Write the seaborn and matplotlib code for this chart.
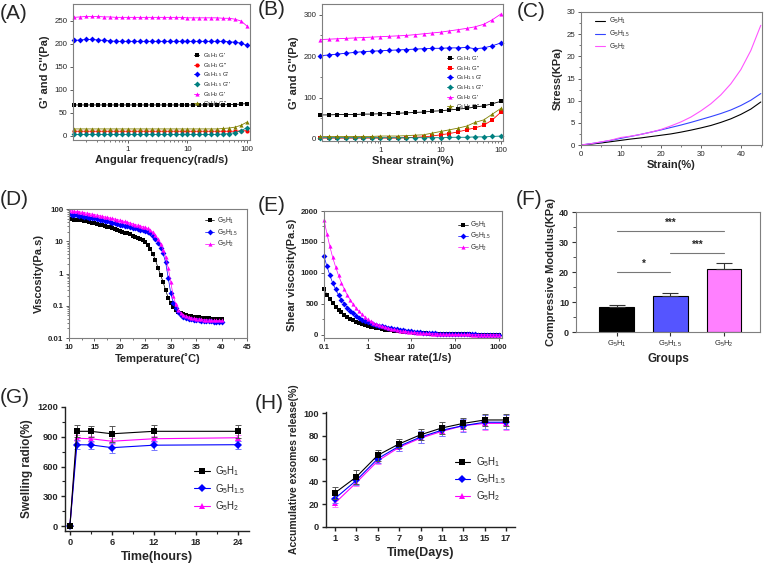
import matplotlib
matplotlib.use("Agg")
import matplotlib.pyplot as plt
import seaborn as sns
from matplotlib.ticker import MultipleLocator

# (A) frequency sweep, rad/s
freq_a = [0.126, 0.158, 0.2, 0.251, 0.316, 0.398, 0.501, 0.631, 0.794, 1,
          1.26, 1.58, 2, 2.51, 3.16, 3.98, 5.01, 6.31, 7.94, 10,
          12.6, 15.8, 20, 25.1, 31.6, 39.8, 50.1, 63.1, 79.4, 100]
a_h1_g1 = [67, 67, 67, 67, 67, 67, 67, 67, 67, 67, 67, 67, 67, 67, 67,
           67, 67, 67, 67, 67, 67, 67, 67, 67, 67, 67, 68, 68, 69, 70]
a_h1_g2 = [10, 10, 10, 10, 10, 10, 10, 10, 10, 10, 10, 10, 10, 10, 10,
           10, 10, 10, 10, 10, 10, 10, 10, 10, 10, 10, 10, 10, 11, 11]
a_h15_g1 = [207, 208, 209, 209, 208, 207, 206, 205, 205, 205, 205, 205, 205, 205, 205,
            205, 205, 205, 205, 205, 205, 205, 205, 205, 205, 205, 204, 203, 201, 196]
a_h15_g2 = [3, 3, 3, 3, 3, 3, 3, 3, 3, 3, 3, 3, 3, 3, 3,
            3, 3, 3, 3, 3, 3, 3, 3, 3, 3, 4, 5, 7, 11, 18]
a_h2_g1 = [257, 258, 259, 259, 259, 258, 258, 257, 257, 257, 257, 257, 257, 257, 257,
           257, 257, 257, 257, 256, 256, 256, 256, 256, 256, 255, 255, 253, 249, 238]
a_h2_g2 = [15, 15, 15, 15, 15, 15, 15, 15, 15, 15, 15, 15, 15, 15, 15,
           15, 15, 15, 15, 15, 15, 15, 15, 15, 15, 16, 17, 19, 23, 30]

# (B) strain sweep, %
strain_b = [0.1, 0.139, 0.193, 0.268, 0.373, 0.518, 0.72, 1, 1.39, 1.93, 2.68,
            3.73, 5.18, 7.2, 10, 13.9, 19.3, 26.8, 37.3, 51.8, 72, 100]
b_h1_g1 = [58, 58, 59, 59, 59, 60, 60, 61, 61, 62, 63, 64, 65, 67, 68, 70, 72, 74, 77, 80, 85, 91]
b_h1_g2 = [2, 2, 2, 2, 2, 2, 2, 2, 2, 2, 3, 4, 5, 7, 10, 13, 17, 22, 27, 33, 46, 65]
b_h15_g1 = [201, 203, 205, 207, 209, 211, 212, 213, 214, 215, 216, 217, 218, 219, 219, 220, 220, 221, 218, 220, 225, 232]
b_h15_g2 = [3, 3, 3, 3, 3, 3, 3, 3, 3, 3, 3, 3, 3, 3, 3, 4, 4, 4, 5, 5, 6, 7]
b_h2_g1 = [240, 241, 242, 243, 244, 245, 246, 247, 248, 249, 250, 252, 254, 256, 258, 261, 264, 267, 271, 277, 288, 302]
b_h2_g2 = [6, 6, 6, 6, 6, 6, 6, 7, 7, 7, 8, 9, 10, 14, 18, 22, 26, 31, 40, 46, 60, 74]

# (C) compression stress-strain
strain_c = [0, 2.5, 5, 7.5, 10, 12.5, 15, 17.5, 20, 22.5, 25, 27.5, 30, 32.5, 35, 37.5, 40, 42.5, 45]
c_h1 = [0, 0.2, 0.45, 0.75, 1.05, 1.35, 1.6, 1.9, 2.2, 2.5, 2.9, 3.35, 3.85, 4.4, 5.1, 5.9, 6.9, 8.1, 9.7]
c_h15 = [0, 0.3, 0.65, 1.05, 1.5, 1.95, 2.4, 2.9, 3.4, 3.95, 4.5, 5.1, 5.75, 6.4, 7.1, 7.9, 8.9, 10.1, 11.6]
c_h2 = [0, 0.3, 0.7, 1.1, 1.7, 2.0, 2.4, 2.9, 3.5, 4.3, 5.2, 6.3, 7.7, 9.3, 11.3, 13.8, 17.0, 21.3, 27.0]

# (D) viscosity vs temperature
temp_d = [10, 10.5, 11, 11.5, 12, 12.5, 13, 13.5, 14, 14.5, 15, 15.5, 16, 16.5, 17, 17.5,
          18, 18.5, 19, 19.5, 20, 20.5, 21, 21.5, 22, 22.5, 23, 23.5, 24, 24.5, 25, 25.5,
          26, 26.5, 27, 27.5, 28, 28.5, 29, 29.5, 30, 30.5, 31, 31.5, 32, 32.5, 33, 33.5,
          34, 34.5, 35, 35.5, 36, 36.5, 37, 37.5, 38, 38.5, 39, 39.5, 40]
d_h1 = [48, 47.5, 47, 46, 45, 44, 42.5, 41, 39.5, 38, 36, 34.5, 33, 31.5, 30, 28.5,
        27, 25.5, 24, 22.5, 21, 19.8, 18.6, 17.4, 16.2, 15, 14, 13, 12, 10.8, 9.5, 7.6,
        5.8, 4.0, 2.6, 1.5, 0.9, 0.55, 0.3, 0.18, 0.125, 0.093, 0.075, 0.064, 0.058, 0.054, 0.051, 0.049,
        0.047, 0.046, 0.045, 0.044, 0.043, 0.042, 0.042, 0.041, 0.040, 0.040, 0.039, 0.039, 0.038]
d_h15 = [68, 66.5, 65, 63.5, 62, 60, 58, 56, 54, 52.5, 51, 49, 47, 45, 43, 41.5,
         40, 38, 36.5, 34.5, 33, 31.5, 30, 28.7, 27.5, 26.2, 25, 24, 23, 22, 21, 19.5,
         17.5, 15, 12, 9, 6.4, 4.2, 2.2, 0.75, 0.25, 0.125, 0.085, 0.063, 0.052, 0.046, 0.042, 0.040,
         0.038, 0.037, 0.036, 0.035, 0.034, 0.034, 0.033, 0.033, 0.033, 0.032, 0.032, 0.032, 0.032]
d_h2 = [90, 88, 86, 84, 82, 79.5, 77, 74.5, 72, 69.5, 67, 64.5, 62, 59.5, 57, 55,
        53, 51, 49, 47, 45, 43, 41, 39, 37, 35, 33, 31.5, 30, 28.5, 27, 25,
        22, 19, 15.5, 12, 8.5, 5.5, 3.2, 1.5, 0.55, 0.2, 0.11, 0.075, 0.06, 0.053, 0.048, 0.045,
        0.043, 0.041, 0.040, 0.039, 0.038, 0.037, 0.037, 0.036, 0.036, 0.035, 0.035, 0.035, 0.035]

# (E) shear viscosity vs shear rate
rate_e = [0.1, 0.117, 0.136, 0.158, 0.185, 0.215, 0.251, 0.293, 0.341, 0.398, 0.464, 0.541, 0.631, 0.736, 0.858,
          1, 1.17, 1.36, 1.58, 1.85, 2.15, 2.51, 2.93, 3.41, 3.98, 4.64, 5.41, 6.31, 7.36, 8.58,
          10, 11.7, 13.6, 15.8, 18.5, 21.5, 25.1, 29.3, 34.1, 39.8, 46.4, 54.1, 63.1, 73.6, 85.8,
          100, 117, 136, 158, 185, 215, 251, 293, 341, 398, 464, 541, 631, 736, 858, 1000]
e_h1 = [740, 650, 575, 510, 455, 405, 362, 325, 292, 263, 237, 214, 194, 176, 160,
        146, 134, 123, 113, 104, 95, 87, 80, 73, 67, 61, 56, 51, 47, 43,
        40, 36, 33, 30, 27, 24.5, 22, 20, 18, 16.5, 15, 13.5, 12, 11, 10,
        9, 8.5, 8, 7.5, 7, 6.6, 6.2, 5.8, 5.4, 5, 4.6, 4.3, 4, 3.6, 3.3, 3]
e_h15 = [1270, 1105, 965, 840, 735, 645, 567, 500, 442, 392, 348, 310, 277, 248, 222,
         205, 190, 175, 162, 150, 138, 127, 117, 107, 98, 90, 82, 75, 68, 62,
         56, 51, 46, 42, 38, 34, 31, 28, 25, 22.5, 20, 18, 16, 14.5, 13,
         12, 11, 10, 9.3, 8.6, 8, 7.4, 6.9, 6.4, 5.9, 5.5, 5.1, 4.8, 4.5, 4.2, 4.0]
e_h2 = [1860, 1630, 1430, 1250, 1095, 960, 840, 735, 645, 565, 495, 433, 380, 332, 291,
        250, 222, 198, 176, 157, 140, 125, 111, 99, 88, 78, 70, 62, 55, 49,
        44, 40, 36, 32, 29, 26, 23, 21, 19, 17, 15, 13.5, 12, 11, 10,
        9.2, 8.5, 8, 7.5, 7, 6.5, 6, 5.6, 5.2, 4.9, 4.6, 4.3, 4, 3.8, 3.6, 3.4]

# (F) compressive modulus
groups = ['G$_5$H$_1$', 'G$_5$H$_{1.5}$', 'G$_5$H$_2$']
modulus = [8.2, 12.0, 21.0]
modulus_err = [0.9, 0.9, 1.9]
sig_pairs = [(0, 1, '*'), (1, 2, '***'), (0, 2, '***')]
sig_heights = [20.1, 26.3, 33.7]

# (G) swelling
hours = [0, 1, 3, 6, 12, 24]
g_h1 = [0, 955, 955, 930, 955, 955]
g_h1_err = [0, 60, 55, 80, 60, 65]
g_h15 = [0, 820, 818, 790, 815, 820]
g_h15_err = [0, 45, 40, 50, 45, 40]
g_h2 = [0, 885, 880, 855, 880, 890]
g_h2_err = [0, 30, 30, 30, 30, 30]

# (H) cumulative exosome release
days = [1, 3, 5, 7, 9, 11, 13, 15, 17]
h_h1 = [30, 44, 63, 73, 81, 87, 91, 94, 94]
h_h1_err = [5, 6, 5, 4, 5, 5, 5, 5, 5]
h_h15 = [25, 41, 60, 71, 79, 85, 89, 92, 92]
h_h15_err = [4, 4, 4, 4, 5, 5, 6, 6, 6]
h_h2 = [21, 39, 58, 70, 78, 84, 89, 91, 91]
h_h2_err = [3, 3, 3, 3, 4, 4, 5, 6, 6]

names = ['G$_5$H$_1$', 'G$_5$H$_{1.5}$', 'G$_5$H$_2$']

sns.set_theme(style='ticks')
plt.rcParams['font.family'] = ['Liberation Sans', 'DejaVu Sans']
plt.rcParams['mathtext.fontset'] = 'custom'
plt.rcParams['mathtext.rm'] = 'Liberation Sans'
plt.rcParams['mathtext.default'] = 'regular'

fig = plt.figure(figsize=(7.64, 5.64), dpi=100)


def px_axes(l, t, r, b):
    return fig.add_axes([l / 764, 1 - b / 564, (r - l) / 764, (b - t) / 564])


def origin_style(ax):
    for s in ax.spines.values():
        s.set_color('#7f7f7f')
        s.set_linewidth(0.8)
    ax.tick_params(which='major', direction='out', length=2.5, width=0.6,
                   color='#444444', pad=1.5)
    ax.tick_params(which='minor', direction='out', length=1.5, width=0.5, color='#444444')


def prism_style(ax):
    ax.spines['top'].set_visible(False)
    ax.spines['right'].set_visible(False)
    for s in ['left', 'bottom']:
        ax.spines[s].set_color('#222222')
        ax.spines[s].set_linewidth(1.0)
    ax.tick_params(which='major', direction='out', length=3, width=1.0, color='#222222', pad=2)
    ax.tick_params(which='minor', direction='out', length=2, width=0.8, color='#222222')


def ticks(ax, axis, vals, labs, size, bold):
    w = 'bold' if bold else 'normal'
    if axis == 'x':
        ax.set_xticks(vals, labs, fontsize=size, fontweight=w)
    else:
        ax.set_yticks(vals, labs, fontsize=size, fontweight=w)


def panel_label(x, y, s):
    fig.text(x / 764, 1 - y / 564, s, fontsize=15, ha='left', va='top')


# ---------------- (A) ----------------
ax = px_axes(73, 4, 250, 140)
a_series = [("G$_5$H$_1$ G'", a_h1_g1, 'black', 's'),
            ("G$_5$H$_1$ G''", a_h1_g2, 'red', 'o'),
            ("G$_5$H$_{1.5}$ G'", a_h15_g1, 'blue', 'D'),
            ("G$_5$H$_{1.5}$ G''", a_h15_g2, '#008080', 'D'),
            ("G$_5$H$_2$ G'", a_h2_g1, 'magenta', '^'),
            ("G$_5$H$_2$ G''", a_h2_g2, '#808000', '^')]
for lab, vals, col, mk in a_series:
    sns.lineplot(x=freq_a, y=vals, ax=ax, color=col, marker=mk, markersize=3,
                 markeredgewidth=0, linewidth=0.6, label=lab, clip_on=False)
ax.set_xscale('log')
ax.set_xlim(0.12, 112)
ax.set_ylim(-9, 286)
origin_style(ax)
ticks(ax, 'x', [1, 10, 100], ['1', '10', '100'], 5.7, False)
ticks(ax, 'y', [0, 50, 100, 150, 200, 250], ['0', '50', '100', '150', '200', '250'], 5.7, False)
ax.set_xlabel('Angular frequency(rad/s)', fontsize=8, fontweight='bold', labelpad=2)
ax.set_ylabel("G' and G''(Pa)", fontsize=8, fontweight='bold', labelpad=3)
ax.legend(loc='upper left', bbox_to_anchor=(0.67, 0.67), frameon=False, fontsize=4.3,
          handlelength=0.9, handletextpad=0.6, labelspacing=0.12, borderaxespad=0)
panel_label(0, 4, '(A)')

# ---------------- (B) ----------------
ax = px_axes(322, 4, 503, 141)
b_series = [("G$_5$H$_1$ G'", b_h1_g1, 'black', 's'),
            ("G$_5$H$_1$ G''", b_h1_g2, 'red', 's'),
            ("G$_5$H$_{1.5}$ G'", b_h15_g1, 'blue', 'D'),
            ("G$_5$H$_{1.5}$ G''", b_h15_g2, '#008080', 'D'),
            ("G$_5$H$_2$ G'", b_h2_g1, 'magenta', '^'),
            ("G$_5$H$_2$ G''", b_h2_g2, '#808000', '^')]
for lab, vals, col, mk in b_series:
    sns.lineplot(x=strain_b, y=vals, ax=ax, color=col, marker=mk, markersize=3,
                 markeredgewidth=0, linewidth=0.6, label=lab, clip_on=False)
ax.set_xscale('log')
ax.set_xlim(0.107, 108)
ax.set_ylim(-5, 326)
origin_style(ax)
ticks(ax, 'x', [1, 10, 100], ['1', '10', '100'], 5.7, False)
ticks(ax, 'y', [0, 100, 200, 300], ['0', '100', '200', '300'], 5.7, False)
ax.yaxis.set_minor_locator(MultipleLocator(50))
ax.set_xlabel('Shear strain(%)', fontsize=8, fontweight='bold', labelpad=2)
ax.set_ylabel("G' and G''(Pa)", fontsize=8, fontweight='bold', labelpad=3)
ax.legend(loc='upper left', bbox_to_anchor=(0.68, 0.65), frameon=False, fontsize=4.3,
          handlelength=0.9, handletextpad=0.6, labelspacing=0.12, borderaxespad=0)
panel_label(258, 0, '(B)')

# ---------------- (C) ----------------
ax = px_axes(581, 12, 762, 145)
for lab, vals, col in [(names[0], c_h1, 'black'), (names[1], c_h15, '#3344ff'), (names[2], c_h2, '#ff55ff')]:
    sns.lineplot(x=strain_c, y=vals, ax=ax, color=col, linewidth=0.8, label=lab)
ax.set_xlim(0, 45.3)
ax.set_ylim(0, 30)
origin_style(ax)
ticks(ax, 'x', [0, 10, 20, 30, 40], ['0', '10', '20', '30', '40'], 5.7, False)
ticks(ax, 'y', [0, 5, 10, 15, 20, 25, 30], ['0', '5', '10', '15', '20', '25', '30'], 5.7, False)
ax.xaxis.set_minor_locator(MultipleLocator(5))
ax.yaxis.set_minor_locator(MultipleLocator(2.5))
ax.set_xlabel('Strain(%)', fontsize=8, fontweight='bold', labelpad=2)
ax.set_ylabel('Stress(KPa)', fontsize=8, fontweight='bold', labelpad=3)
ax.legend(loc='upper left', bbox_to_anchor=(0.06, 0.99), frameon=False, fontsize=4.8,
          handlelength=1.6, handletextpad=0.5, labelspacing=0.4, borderaxespad=0)
panel_label(517, 2, '(C)')

# ---------------- (D) ----------------
ax = px_axes(69, 209, 247, 338)
for lab, vals, col, mk in [(names[0], d_h1, 'black', 's'), (names[1], d_h15, 'blue', 'D'),
                           (names[2], d_h2, 'magenta', '^')]:
    sns.lineplot(x=temp_d, y=vals, ax=ax, color=col, marker=mk, markersize=3,
                 markeredgewidth=0, linewidth=0.5, label=lab)
ax.set_yscale('log')
ax.set_xlim(10, 45)
ax.set_ylim(0.01, 100)
origin_style(ax)
ticks(ax, 'x', [10, 15, 20, 25, 30, 35, 40, 45], ['10', '15', '20', '25', '30', '35', '40', '45'], 5.7, True)
ticks(ax, 'y', [0.01, 0.1, 1, 10, 100], ['0.01', '0.1', '1', '10', '100'], 5.7, True)
ax.xaxis.set_minor_locator(MultipleLocator(2.5))
ax.set_xlabel('Temperature(\u02daC)', fontsize=8, fontweight='bold', labelpad=2)
ax.set_ylabel('Viscosity(Pa.s)', fontsize=8, fontweight='bold', labelpad=3)
ax.legend(loc='upper left', bbox_to_anchor=(0.75, 0.97), frameon=False, fontsize=4.8,
          handlelength=1.4, handletextpad=0.4, labelspacing=0.25, borderaxespad=0)
panel_label(0, 190, '(D)')

# ---------------- (E) ----------------
ax = px_axes(324, 211, 502, 338)
for lab, vals, col, mk in [(names[0], e_h1, 'black', 's'), (names[1], e_h15, 'blue', 'D'),
                           (names[2], e_h2, 'magenta', '^')]:
    sns.lineplot(x=rate_e, y=vals, ax=ax, color=col, marker=mk, markersize=3,
                 markeredgewidth=0, linewidth=0.5, label=lab, clip_on=False)
ax.set_xscale('log')
ax.set_xlim(0.1, 1200)
ax.set_ylim(-50, 2000)
origin_style(ax)
ticks(ax, 'x', [0.1, 1, 10, 100, 1000], ['0.1', '1', '10', '100', '1000'], 5.7, True)
ticks(ax, 'y', [0, 500, 1000, 1500, 2000], ['0', '500', '1000', '1500', '2000'], 5.7, True)
ax.yaxis.set_minor_locator(MultipleLocator(250))
ax.set_xlabel('Shear rate(1/s)', fontsize=8, fontweight='bold', labelpad=2)
ax.set_ylabel('Shear viscosity(Pa.s)', fontsize=8, fontweight='bold', labelpad=3)
ax.legend(loc='upper left', bbox_to_anchor=(0.74, 0.95), frameon=False, fontsize=4.8,
          handlelength=1.4, handletextpad=0.4, labelspacing=0.15, borderaxespad=0)
panel_label(258, 196, '(E)')

# ---------------- (F) ----------------
ax = px_axes(576, 212, 760, 332)
sns.barplot(x=groups, y=modulus, hue=groups, palette=['black', '#5555ff', '#ff80ff'], ax=ax,
            width=0.65, saturation=1, edgecolor='black', linewidth=0.8, legend=False)
ax.errorbar([0, 1, 2], modulus, yerr=[[0, 0, 0], modulus_err], fmt='none', ecolor='#333333',
            elinewidth=0.8, capsize=6, capthick=0.8)
for (i, j, star), h in zip(sig_pairs, sig_heights):
    ax.plot([i, j], [h, h], color='#777777', linewidth=0.8)
    ax.text((i + j) / 2, h + 1.0, star, ha='center', va='bottom', fontsize=7, fontweight='bold')
ax.set_xlim(-0.76, 2.67)
ax.set_ylim(0, 40)
for s in ax.spines.values():
    s.set_color('#7f7f7f')
    s.set_linewidth(0.8)
ax.tick_params(which='major', direction='out', length=3, width=0.8, color='#333333', pad=2)
ax.tick_params(which='minor', direction='out', length=2, width=0.6, color='#333333')
ticks(ax, 'x', [0, 1, 2], groups, 5.5, False)
ticks(ax, 'y', [0, 10, 20, 30, 40], ['0', '10', '20', '30', '40'], 6.5, True)
ax.yaxis.set_minor_locator(MultipleLocator(5))
ax.set_xlabel('Groups', fontsize=8.5, fontweight='bold', labelpad=3)
ax.set_ylabel('Compressive Modulus(KPa)', fontsize=8, fontweight='bold', labelpad=2)
panel_label(516, 190, '(F)')

# ---------------- (G) ----------------
ax = px_axes(65, 407, 249, 531)
g_series = [(names[0], g_h1, g_h1_err, 'black', '#555555', 's', 5, 5),
            (names[1], g_h15, g_h15_err, 'blue', '#7777ff', 'D', 4, 4),
            (names[2], g_h2, g_h2_err, 'magenta', '#ff77ff', '^', 5, 3)]
for lab, vals, errs, col, ecol, mk, ms, z in g_series:
    ax.errorbar(hours, vals, yerr=errs, fmt='none', ecolor=ecol, elinewidth=0.7,
                capsize=2.5, capthick=0.7, zorder=z - 0.5)
    sns.lineplot(x=hours, y=vals, ax=ax, color=col, marker=mk, markersize=ms,
                 markeredgewidth=0, linewidth=0.8, label=lab, zorder=z)
ax.set_xlim(-0.7, 25.6)
ax.set_ylim(-50, 1200)
prism_style(ax)
ticks(ax, 'x', [0, 6, 12, 18, 24], ['0', '6', '12', '18', '24'], 6.7, True)
ticks(ax, 'y', [0, 300, 600, 900, 1200], ['0', '300', '600', '900', '1200'], 6.7, True)
ax.xaxis.set_minor_locator(MultipleLocator(3))
ax.yaxis.set_minor_locator(MultipleLocator(150))
ax.set_xlabel('Time(hours)', fontsize=9, fontweight='bold', labelpad=3)
ax.set_ylabel('Swelling radio(%)', fontsize=8.5, fontweight='bold', labelpad=3)
ax.legend(loc='upper left', bbox_to_anchor=(0.68, 0.57), frameon=False, fontsize=7,
          handlelength=1.6, handletextpad=0.6, labelspacing=0.4, borderaxespad=0)
panel_label(0, 388, '(G)')

# ---------------- (H) ----------------
ax = px_axes(326, 412, 515, 527)
h_series = [(names[0], h_h1, h_h1_err, 'black', '#555555', 's', 5, 5),
            (names[1], h_h15, h_h15_err, 'blue', '#7777ff', 'D', 4, 4),
            (names[2], h_h2, h_h2_err, 'magenta', '#ff77ff', '^', 5, 3)]
for lab, vals, errs, col, ecol, mk, ms, z in h_series:
    ax.errorbar(days, vals, yerr=errs, fmt='none', ecolor=ecol, elinewidth=0.7,
                capsize=2.5, capthick=0.7, zorder=z - 0.5)
    sns.lineplot(x=days, y=vals, ax=ax, color=col, marker=mk, markersize=ms,
                 markeredgewidth=0, linewidth=0.8, label=lab, zorder=z)
ax.set_xlim(0.16, 17.84)
ax.set_ylim(0, 101)
prism_style(ax)
ticks(ax, 'x', days, [str(d) for d in days], 6.7, True)
ticks(ax, 'y', [0, 20, 40, 60, 80, 100], ['0', '20', '40', '60', '80', '100'], 6.7, True)
ax.set_xlabel('Time(Days)', fontsize=9, fontweight='bold', labelpad=3)
ax.set_ylabel('Accumulative exsomes release(%)', fontsize=7.5, fontweight='bold', labelpad=3)
ax.legend(loc='upper left', bbox_to_anchor=(0.66, 0.66), frameon=False, fontsize=7,
          handlelength=1.6, handletextpad=0.6, labelspacing=0.35, borderaxespad=0)
panel_label(255, 394, '(H)')

fig.savefig('out.png', dpi=100)
